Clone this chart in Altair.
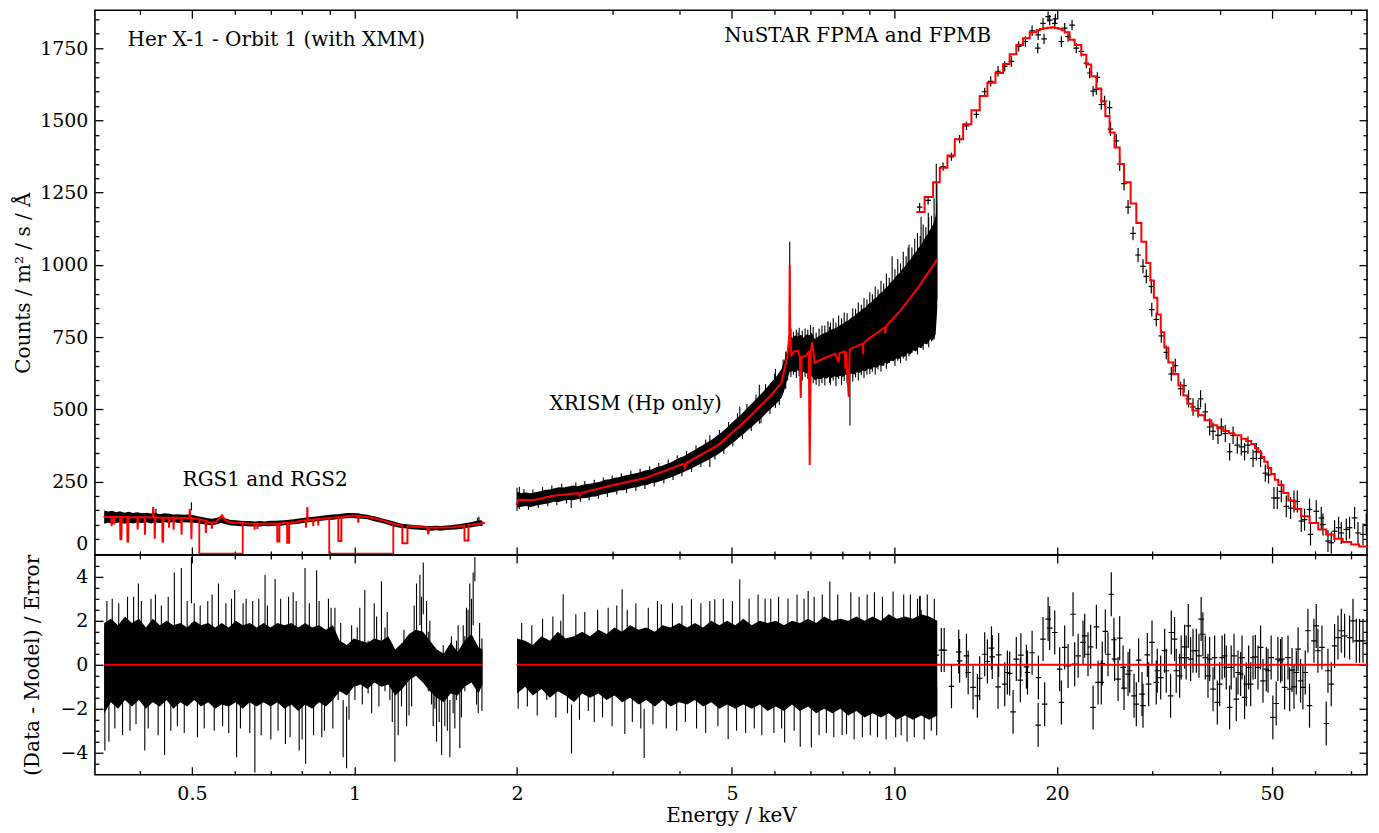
import altair as alt
import pandas as pd

FONT = "DejaVu Serif"
W, H1, H2 = 1273, 545, 220
X_DOMAIN = [0.3307, 74.98]
Y1_DOMAIN = [-4, 1881]
Y2_DOMAIN = [-5, 5]

# ------------------------------------------------------------------ data
# RGS model (keV, counts/m2/s/A)
rgs_model = [
    (0.343, 127), (0.352, 127), (0.3545, 127), (0.3551, 95), (0.3557, 127), (0.3583, 127), (0.3589, 101), (0.3595, 127),
    (0.368, 127), (0.3687, 50), (0.3701, 50), (0.3708, 127),
    (0.3795, 127), (0.3799, 42), (0.3809, 42), (0.3815, 127),
    (0.3962, 126), (0.3968, 84), (0.3974, 126),
    (0.4087, 126), (0.4093, 66), (0.4099, 126),
    (0.4230, 126), (0.4240, 162), (0.4250, 126), (0.4262, 126), (0.4268, 52), (0.4276, 126),
    (0.4407, 125), (0.4412, 42), (0.4422, 42), (0.4428, 125),
    (0.4530, 125), (0.4536, 90), (0.4542, 125),
    (0.4619, 125), (0.4625, 83), (0.4631, 125),
    (0.4779, 124), (0.4785, 66), (0.4791, 124),
    (0.4945, 124), (0.4955, 155), (0.4965, 124), (0.4984, 124), (0.4990, 50), (0.4998, 124),
    (0.505, 122), (0.515, 120), (0.525, 116), (0.5301, 114), (0.5307, 72), (0.5313, 113), (0.538, 110),
    (0.5437, 108), (0.5443, 87), (0.5449, 108),
    (0.555, 110), (0.562, 122), (0.5684, 133), (0.575, 118), (0.585, 110), (0.600, 107), (0.620, 106), (0.640, 104),
    (0.6527, 104), (0.6533, 83), (0.6540, 104), (0.6605, 104), (0.6611, 86), (0.6618, 104),
    (0.690, 104), (0.7195, 105), (0.7197, 42), (0.7259, 42), (0.7261, 105),
    (0.7505, 107), (0.7507, 38), (0.7570, 38), (0.7572, 107),
    (0.780, 110), (0.800, 115), (0.8125, 116), (0.8131, 90), (0.8137, 116), (0.8170, 117), (0.8180, 162), (0.8190, 117),
    (0.8385, 118), (0.8390, 95), (0.8396, 118), (0.8565, 120), (0.8570, 98), (0.8576, 120),
    (0.880, 122), (0.910, 125), (0.9335, 127), (0.9337, 44), (0.9455, 44), (0.9457, 127),
    (0.965, 130), (0.995, 132), (1.0150, 131), (1.0163, 107), (1.0175, 130),
    (1.053, 127), (1.085, 123), (1.114, 118), (1.150, 110), (1.180, 104), (1.220, 98),
    (1.2265, 97), (1.2267, 36), (1.2535, 36), (1.2537, 95),
    (1.285, 95), (1.340, 92), (1.3650, 91), (1.3700, 67), (1.3750, 90), (1.399, 90), (1.460, 91), (1.523, 92),
    (1.590, 97), (1.5985, 98), (1.5987, 46), (1.6255, 46), (1.6257, 100), (1.659, 101), (1.700, 104), (1.745, 107),
]
# RGS chip gaps (model drops to zero)
rgs_gap1 = [(0.516, 120), (0.516, 0), (0.621, 0), (0.621, 106)]
rgs_gap2 = [(0.898, 122), (0.898, 0), (1.180, 0), (1.180, 104)]

# RGS data envelope (keV, low, high)
rgs_band = [
    (0.344, 104, 150), (0.350, 108, 146), (0.356, 103, 149), (0.362, 106, 144), (0.368, 109, 147),
    (0.375, 104, 142), (0.382, 107, 145), (0.389, 105, 141), (0.396, 108, 144), (0.404, 106, 140),
    (0.412, 109, 142), (0.420, 105, 139), (0.428, 108, 141), (0.436, 106, 137), (0.445, 109, 140),
    (0.454, 107, 138), (0.463, 110, 136), (0.472, 106, 137), (0.482, 109, 135), (0.492, 108, 136),
    (0.502, 107, 134), (0.512, 106, 130), (0.522, 103, 127), (0.533, 100, 124), (0.544, 99, 121),
    (0.555, 101, 124), (0.566, 106, 130), (0.578, 102, 122), (0.590, 98, 117), (0.602, 97, 116),
    (0.615, 95, 114), (0.628, 96, 113), (0.641, 94, 113), (0.654, 95, 112), (0.668, 94, 113),
    (0.682, 96, 112), (0.696, 95, 114), (0.711, 97, 114), (0.726, 96, 115), (0.741, 99, 116),
    (0.757, 100, 118), (0.773, 102, 119), (0.789, 104, 122), (0.806, 107, 125), (0.823, 109, 126),
    (0.840, 111, 128), (0.858, 113, 130), (0.876, 115, 132), (0.894, 117, 134), (0.913, 118, 136),
    (0.932, 120, 137), (0.952, 122, 139), (0.972, 123, 141), (0.993, 124, 141), (1.014, 122, 140),
    (1.035, 121, 137), (1.057, 119, 135), (1.080, 114, 131), (1.103, 110, 127), (1.126, 106, 122),
    (1.150, 101, 118), (1.174, 96, 113), (1.199, 92, 108), (1.224, 89, 104), (1.250, 87, 102),
    (1.276, 85, 100), (1.303, 84, 99), (1.331, 82, 98), (1.359, 81, 96), (1.388, 80, 96),
    (1.417, 81, 97), (1.447, 80, 96), (1.478, 82, 98), (1.509, 83, 99), (1.541, 84, 101),
    (1.573, 86, 103), (1.607, 89, 106), (1.641, 91, 109), (1.676, 94, 113), (1.711, 96, 116), (1.726, 95, 114),
]
rgs_spikes = [(0.499, 150, 178), (0.429, 138, 156), (1.700, 110, 128), (1.690, 102, 124)]

# XRISM model
xrism_model = [
    (1.995, 170), (2.012, 187), (2.154, 186), (2.316, 200), (2.599, 210), (2.613, 200), (2.633, 211),
    (2.992, 236), (3.444, 261), (4.067, 311), (4.093, 297), (4.118, 314), (4.715, 376), (5.274, 457),
    (5.834, 538), (6.173, 590), (6.336, 685), (6.385, 760), (6.397, 1000), (6.410, 760), (6.442, 688),
    (6.52, 700), (6.630, 702), (6.68, 680), (6.705, 539), (6.73, 680), (6.867, 686), (6.94, 702),
    (6.966, 307), (7.00, 700), (7.04, 732), (7.116, 662), (7.479, 680), (7.764, 692), (7.88, 662),
    (7.91, 695), (8.09, 700), (8.11, 640), (8.13, 700), (8.23, 543), (8.26, 705), (8.318, 710),
    (8.74, 728), (8.75, 690), (8.76, 728), (8.93, 742), (9.59, 783), (9.61, 762), (9.65, 788),
    (10.29, 845), (11.06, 921), (12.00, 1019),
]
# XRISM data: dense core (keV, low, high)
xrism_band = [
    (2.00, 160, 214), (2.04, 163, 210), (2.08, 165, 212), (2.12, 161, 209), (2.16, 166, 213),
    (2.21, 170, 216), (2.25, 172, 221), (2.30, 176, 222), (2.34, 180, 226), (2.39, 179, 230),
    (2.44, 184, 229), (2.49, 186, 233), (2.54, 185, 236), (2.59, 189, 234), (2.64, 192, 238),
    (2.69, 193, 241), (2.75, 197, 243), (2.80, 198, 247), (2.86, 204, 250), (2.91, 207, 256),
    (2.97, 211, 258), (3.03, 214, 263), (3.09, 219, 265), (3.15, 220, 270), (3.22, 225, 273),
    (3.28, 228, 277), (3.35, 231, 280), (3.41, 236, 285), (3.48, 238, 290), (3.55, 244, 292),
    (3.62, 247, 299), (3.70, 253, 304), (3.77, 258, 310), (3.85, 264, 316), (3.92, 270, 324),
    (4.00, 277, 332), (4.08, 284, 338), (4.16, 291, 348), (4.25, 299, 357), (4.33, 307, 367),
    (4.42, 316, 376), (4.51, 324, 387), (4.60, 333, 396), (4.69, 342, 408), (4.78, 352, 420),
    (4.88, 365, 434), (4.97, 378, 449), (5.07, 390, 464), (5.17, 404, 478), (5.28, 418, 495),
    (5.38, 432, 511), (5.49, 446, 527), (5.60, 460, 544), (5.71, 475, 561), (5.83, 492, 580),
    (5.94, 506, 598), (6.06, 522, 616), (6.18, 540, 640), (6.25, 565, 668), (6.32, 600, 700),
    (6.36, 615, 712), (6.40, 630, 752), (6.47, 632, 748), (6.55, 628, 755), (6.63, 636, 752),
    (6.71, 622, 758), (6.79, 630, 748), (6.87, 624, 760), (6.95, 632, 756), (7.03, 615, 765),
    (7.12, 600, 742), (7.20, 606, 750), (7.29, 604, 756), (7.38, 610, 762), (7.47, 606, 766),
    (7.56, 612, 772), (7.65, 608, 776), (7.74, 614, 780), (7.83, 610, 784), (7.93, 616, 792),
    (8.02, 612, 796), (8.12, 620, 804), (8.22, 616, 808), (8.32, 624, 818), (8.42, 620, 822),
    (8.52, 628, 832), (8.62, 626, 838), (8.73, 634, 848), (8.83, 632, 852), (8.94, 640, 864),
    (9.05, 638, 870), (9.16, 646, 882), (9.27, 644, 888), (9.38, 652, 900), (9.49, 650, 906),
    (9.61, 660, 918), (9.72, 658, 926), (9.84, 668, 940), (9.96, 666, 948), (10.08, 676, 962),
    (10.20, 674, 970), (10.32, 684, 984), (10.45, 682, 994), (10.57, 694, 1008), (10.70, 690, 1018),
    (10.83, 704, 1034), (10.96, 700, 1045), (11.09, 716, 1060), (11.23, 712, 1072), (11.36, 728, 1090),
    (11.50, 724, 1104), (11.64, 742, 1122), (11.78, 738, 1138), (11.92, 760, 1170), (12.00, 850, 1220),
]
# XRISM data: individual bins standing out of the core (keV, low, high)
xrism_spikes = [
    (2.00, 148, 228), (2.02, 155, 232), (2.06, 170, 224), (2.10, 152, 206), (2.14, 168, 222),
    (2.19, 158, 210), (2.23, 176, 230), (2.28, 164, 215), (2.32, 182, 236), (2.37, 168, 222),
    (2.42, 188, 242), (2.47, 174, 228), (2.52, 158, 200), (2.57, 192, 247), (2.62, 180, 232),
    (2.67, 197, 252), (2.72, 184, 236), (2.78, 202, 256), (2.83, 190, 242), (2.89, 210, 264),
    (2.94, 196, 250), (3.00, 217, 271), (3.06, 205, 256), (3.12, 223, 279), (3.19, 210, 262),
    (3.25, 231, 287), (3.32, 217, 270), (3.38, 238, 294), (3.45, 224, 280), (3.52, 246, 303),
    (3.59, 233, 288), (3.66, 255, 314), (3.74, 243, 298), (3.81, 266, 326), (3.89, 255, 311),
    (3.96, 279, 341), (4.04, 268, 326), (4.12, 293, 356), (4.21, 283, 341), (4.29, 309, 375),
    (4.38, 300, 360), (4.47, 326, 395), (4.55, 300, 410), (4.65, 326, 390), (4.74, 352, 428),
    (4.83, 346, 416), (4.93, 377, 456), (5.02, 372, 443), (5.12, 403, 486), (5.17, 420, 509),
    (5.23, 398, 474), (5.33, 431, 518), (5.43, 425, 505), (5.54, 459, 551), (5.62, 450, 585),
    (5.66, 452, 540), (5.77, 489, 587), (5.88, 484, 576), (6.00, 520, 624), (6.02, 505, 640),
    (6.12, 515, 615), (6.22, 558, 672), (6.29, 570, 700), (6.34, 600, 716),
    (6.397, 640, 1080), (6.43, 612, 780), (6.50, 620, 768), (6.58, 608, 775), (6.63, 640, 766),
    (6.66, 615, 782), (6.75, 600, 772), (6.83, 612, 780), (6.91, 606, 775), (6.99, 598, 792),
    (7.07, 590, 785), (7.16, 585, 765), (7.25, 580, 780), (7.34, 590, 790), (7.43, 582, 790),
    (7.53, 640, 805), (7.58, 592, 785), (7.61, 585, 800), (7.70, 600, 815), (7.79, 580, 800),
    (7.88, 605, 825), (7.98, 585, 815), (8.07, 598, 835), (8.17, 590, 832), (8.27, 444, 620),
    (8.37, 596, 850), (8.47, 610, 848), (8.57, 600, 870), (8.68, 618, 862), (8.78, 608, 885),
    (8.89, 620, 880), (9.00, 622, 905), (9.10, 630, 898), (9.21, 620, 925), (9.32, 638, 915),
    (9.44, 630, 945), (9.55, 650, 935), (9.66, 640, 970), (9.78, 660, 955), (9.90, 800, 1030),
    (10.02, 650, 985), (10.14, 668, 1020), (10.29, 685, 900), (10.26, 660, 1005), (10.38, 676, 1045),
    (10.51, 668, 1030), (10.60, 720, 1060), (10.64, 684, 1070), (10.77, 695, 1060), (10.90, 731, 1090),
    (11.03, 690, 1110), (11.16, 712, 1100), (11.20, 900, 1166), (11.30, 705, 1140), (11.43, 728, 1130),
    (11.55, 742, 1180), (11.57, 715, 1165), (11.71, 735, 1170), (11.84, 742, 1230), (11.95, 1000, 1350),
    (11.98, 880, 1290),
]

# NuSTAR model (binned, step edges)
nustar_model = [
    (10.98, 1183), (11.37, 1235), (11.79, 1286), (12.13, 1336), (12.53, 1378), (12.93, 1435), (13.40, 1487),
    (13.88, 1535), (14.38, 1584), (14.86, 1630), (15.38, 1664), (15.89, 1695), (16.34, 1729), (16.81, 1761),
    (17.30, 1784), (17.80, 1805), (18.31, 1812), (18.60, 1816), (18.86, 1819), (19.20, 1821), (19.51, 1822),
    (19.80, 1820), (20.11, 1817), (20.40, 1812), (20.66, 1805), (21.10, 1779), (21.56, 1761), (22.18, 1727),
    (22.66, 1693), (23.14, 1653), (23.65, 1610), (24.15, 1565), (24.57, 1515), (25.02, 1458), (25.56, 1406),
    (26.12, 1349), (26.61, 1286), (27.37, 1212), (28.04, 1145), (28.65, 1080), (29.26, 1006), (29.77, 946),
    (30.22, 886), (30.67, 828), (31.12, 767), (31.60, 714), (32.14, 662), (32.83, 622), (33.54, 582),
    (34.26, 548), (34.85, 519), (35.61, 496), (36.53, 479), (37.5, 462), (38.60, 445), (39.6, 434),
    (40.63, 425), (41.6, 417), (42.58, 410), (43.87, 398), (44.8, 390), (45.78, 380), (46.5, 366),
    (47.16, 352), (47.8, 335), (48.39, 318), (49.1, 297), (49.83, 276), (50.6, 256), (51.37, 238),
    (52.5, 210), (53.61, 184), (55.1, 155), (56.63, 130), (58.7, 106), (60.91, 84), (63.0, 67),
    (65.21, 52), (67.6, 41), (70.08, 32), (72.5, 25), (75.0, 20),
]
# NuSTAR data (keV, value, 1-sigma error)
nustar_data = [
    (11.13, 1200, 14), (11.54, 1223, 14), (12.30, 1340, 14), (12.75, 1374, 14), (13.20, 1435, 14),
    (13.59, 1481, 14), (14.18, 1521, 14), (14.69, 1599, 14), (15.07, 1635, 18), (15.55, 1670, 18),
    (16.00, 1687, 18), (16.46, 1704, 18), (16.98, 1756, 18), (17.47, 1773, 18), (17.98, 1810, 18),
    (18.45, 1796, 18), (18.42, 1750, 18), (18.92, 1782, 18), (18.84, 1836, 18), (19.25, 1859, 18),
    (19.38, 1847, 18), (19.86, 1851, 18), (19.80, 1836, 18), (20.37, 1773, 18), (20.66, 1819, 18),
    (20.96, 1790, 18), (21.32, 1830, 18), (21.71, 1750, 18), (22.18, 1739, 18), (22.66, 1698, 18),
    (22.98, 1664, 18), (23.32, 1601, 18), (23.65, 1607, 18), (23.75, 1649, 18), (24.15, 1555, 18),
    (24.49, 1567, 18), (25.02, 1544, 24), (25.12, 1470, 24), (25.75, 1429, 24), (26.12, 1349, 24),
    (26.61, 1281, 24), (27.07, 1200, 24), (27.65, 1109, 24), (28.25, 1034, 24), (28.85, 995, 24),
    (29.26, 960, 24), (29.89, 925, 24), (29.95, 845, 24), (30.53, 811, 24), (31.19, 754, 24),
    (31.86, 697, 24), (32.55, 622, 24), (33.11, 651, 24), (33.87, 571, 24), (34.37, 582, 24),
    (35.04, 536, 30), (35.71, 508, 30), (36.48, 502, 30), (36.88, 536, 30), (37.63, 491, 30),
    (38.33, 439, 30), (38.89, 424, 30), (39.72, 410, 30), (40.29, 439, 30), (40.98, 416, 30),
    (41.74, 353, 30), (42.36, 410, 30), (43.13, 376, 30), (43.87, 370, 30), (44.49, 353, 30),
    (45.14, 376, 30), (46.12, 330, 30), (46.77, 353, 30), (47.63, 330, 30), (48.60, 279, 30),
    (49.28, 273, 30), (50.43, 193, 38), (51.15, 193, 38), (52.03, 216, 38), (53.15, 164, 38),
    (54.13, 158, 38), (54.92, 181, 38), (55.70, 181, 38), (56.65, 113, 38), (57.45, 118, 38),
    (58.68, 153, 38), (58.93, 67, 38), (60.39, 147, 38), (61.70, 124, 38), (62.14, 101, 38),
    (63.48, 44, 38), (64.38, 38, 38), (65.30, 78, 38), (66.42, 90, 38), (67.19, 72, 38),
    (68.64, 84, 38), (69.61, 90, 38), (71.11, 124, 38), (72.15, 72, 38), (73.71, 67, 38), (74.75, 101, 38),
]

# Residuals: RGS dense core (keV, low, high)
rgs_res_band = [
    (0.344, -2.2, 1.9), (0.354, -1.7, 2.1), (0.365, -2.0, 1.8), (0.376, -1.6, 2.2), (0.387, -1.9, 1.9),
    (0.399, -1.6, 2.1), (0.411, -2.0, 1.7), (0.423, -1.7, 2.1), (0.436, -1.9, 1.8), (0.449, -1.6, 2.0),
    (0.462, -2.0, 1.8), (0.476, -1.7, 1.9), (0.490, -1.9, 1.7), (0.505, -1.6, 2.0), (0.520, -1.9, 1.8),
    (0.536, -1.7, 1.9), (0.552, -2.0, 1.7), (0.568, -1.8, 1.9), (0.585, -1.9, 1.7), (0.603, -1.7, 2.0),
    (0.621, -2.0, 1.8), (0.640, -1.7, 1.9), (0.659, -1.9, 1.7), (0.679, -1.7, 1.9), (0.699, -1.9, 1.7),
    (0.720, -1.7, 1.9), (0.742, -2.0, 1.8), (0.764, -1.8, 1.9), (0.787, -2.1, 1.7), (0.810, -1.8, 1.9),
    (0.835, -2.0, 1.7), (0.860, -1.7, 1.8), (0.885, -1.9, 1.6), (0.912, -1.6, 1.8), (0.939, -1.2, 1.1),
    (0.968, -1.4, 0.9), (0.997, -1.0, 1.2), (1.027, -0.9, 1.1), (1.057, -1.1, 1.0), (1.089, -0.8, 1.2),
    (1.122, -1.0, 1.1), (1.155, -0.9, 1.3), (1.190, -1.4, 0.7), (1.226, -1.1, 1.0), (1.262, -0.7, 1.4),
    (1.300, -0.5, 1.6), (1.339, -0.8, 1.5), (1.379, -1.2, 1.1), (1.421, -1.5, 0.7), (1.463, -1.7, 0.5),
    (1.507, -1.3, 1.0), (1.553, -1.4, 0.6), (1.599, -1.0, 1.1), (1.647, -0.8, 1.4), (1.697, -1.3, 0.8),
    (1.726, -0.9, 0.7),
]
rgs_res_spikes = [
    (0.345, -3.9, 1.8), (0.348, 0.5, 2.9), (0.351, -3.5, 0.5), (0.356, 0.2, 3.0), (0.360, -2.9, -0.4),
    (0.366, 0.4, 2.8), (0.372, -3.2, -0.5), (0.380, 0.6, 3.1), (0.384, -3.0, -0.6), (0.390, 0.5, 3.1),
    (0.394, -2.7, -0.3), (0.398, -0.5, 3.7), (0.403, 0.3, 2.9), (0.409, -3.9, 0.3), (0.415, -2.9, -0.5),
    (0.420, 0.5, 3.0), (0.428, 0.8, 3.2), (0.433, -3.2, -0.7), (0.439, 0.4, 2.7), (0.445, -4.1, 0.2),
    (0.452, 0.6, 3.1), (0.457, -3.0, -0.5), (0.464, 0.5, 4.2), (0.470, -2.8, -0.4), (0.478, 1.0, 4.4),
    (0.484, -3.1, -0.6), (0.490, 0.4, 2.9), (0.499, 2.8, 4.9), (0.4995, -1.0, 1.9), (0.505, 0.5, 2.8),
    (0.512, -3.3, -0.6), (0.518, 0.3, 2.7), (0.527, -2.9, -0.5), (0.535, 0.5, 2.9), (0.545, 0.6, 3.2),
    (0.550, -3.0, -0.6), (0.560, 0.0, 3.7), (0.570, -2.8, -0.4), (0.578, 0.4, 2.8), (0.585, -3.1, -0.4),
    (0.592, 0.6, 3.0), (0.600, 0.3, 3.4), (0.605, -4.2, -0.5), (0.615, -2.9, -0.5), (0.622, 0.5, 2.8),
    (0.630, 0.4, 3.0), (0.640, -3.1, -0.6), (0.648, 0.4, 2.9), (0.654, -4.9, -1.5), (0.665, 0.5, 3.0),
    (0.672, -3.2, -0.8), (0.683, 0.8, 4.1), (0.690, 0.3, 2.7), (0.700, -3.4, -0.6), (0.713, 0.6, 3.9),
    (0.722, -3.0, -0.6), (0.730, 0.5, 3.0), (0.745, -3.6, -0.8), (0.755, 0.6, 3.1), (0.760, -3.3, -0.7),
    (0.770, 0.5, 3.3), (0.780, 0.4, 2.9), (0.790, -3.9, -1.0), (0.800, -3.4, -0.8), (0.810, 1.0, 4.4),
    (0.812, -4.5, -1.0), (0.825, 0.5, 2.8), (0.840, -3.2, -0.6), (0.851, 0.8, 4.3), (0.860, 0.5, 2.9),
    (0.870, -3.3, -0.4), (0.880, -3.0, -0.5), (0.895, 0.6, 3.0), (0.905, 0.4, 2.6), (0.912, -2.9, -0.6),
    (0.920, 0.6, 2.6), (0.933, -1.6, 1.1), (0.943, -0.5, 1.9), (0.953, -4.2, -1.6), (0.967, -4.7, -1.9),
    (0.977, -2.5, 0.2), (0.988, -0.7, 1.8), (1.002, -1.6, 0.6), (1.012, -0.9, 1.7), (1.023, -0.4, 2.6),
    (1.034, -1.8, 0.9), (1.045, 0.6, 3.4), (1.060, -1.3, 1.1), (1.076, -2.2, 0.3), (1.088, 0.1, 2.8),
    (1.099, -0.4, 2.2), (1.110, -1.9, 0.5), (1.122, 1.1, 3.8), (1.139, -1.2, 1.7), (1.150, -0.2, 2.4),
    (1.163, -1.6, 1.1), (1.175, -2.6, 0.0), (1.188, -4.4, -0.1), (1.205, -3.2, -0.7), (1.222, -1.9, 0.3),
    (1.235, -0.9, 1.6), (1.249, -2.8, -0.1), (1.262, -2.3, 0.1), (1.276, -1.9, 1.1), (1.290, -0.4, 2.7),
    (1.303, 0.6, 3.7), (1.322, 1.8, 4.1), (1.331, 0.8, 3.1), (1.341, 2.3, 4.65), (1.360, 0.2, 2.9),
    (1.370, -1.2, 1.5), (1.379, -0.7, 2.0), (1.389, -1.8, 1.0), (1.399, -2.8, 0.0), (1.409, -2.0, 0.7),
    (1.419, -3.5, -0.7), (1.435, -2.6, -0.2), (1.450, -4.1, -1.2), (1.460, -1.5, 0.9), (1.470, -2.8, -0.4),
    (1.486, -3.0, -0.3), (1.502, -4.2, -1.6), (1.512, -1.1, 1.3), (1.523, -2.2, 0.3), (1.534, -2.9, -0.4),
    (1.545, -1.6, 1.1), (1.556, -0.9, 1.8), (1.567, -3.8, -0.9), (1.578, -2.4, 0.2), (1.590, -0.7, 1.8),
    (1.601, -1.2, 1.3), (1.612, 0.2, 2.6), (1.623, -0.3, 2.5), (1.635, 1.1, 3.7), (1.647, 0.5, 3.0),
    (1.659, 1.8, 4.2), (1.671, 3.8, 4.9), (1.683, -1.8, 0.9), (1.695, -2.2, -0.4), (1.705, -0.3, 1.9),
    (1.714, -1.0, 0.5), (1.722, -2.1, 1.2),
]
# wide RGS bins across the chip gaps (keV start, keV end, residual)
rgs_res_wide = [(0.521, 0.622, -1.3), (0.920, 1.188, 0.5)]

# Residuals: XRISM dense core (keV, low, high)
xrism_res_band = [
    (2.00, -1.3, 1.2), (2.07, -1.0, 1.1), (2.14, -1.4, 0.9), (2.22, -1.1, 1.3), (2.30, -1.5, 1.1),
    (2.38, -1.2, 1.5), (2.46, -1.4, 1.2), (2.55, -1.7, 1.3), (2.64, -1.3, 1.5), (2.73, -1.5, 1.3),
    (2.83, -1.3, 1.6), (2.93, -1.6, 1.4), (3.03, -1.4, 1.7), (3.13, -1.7, 1.5), (3.24, -1.5, 1.8),
    (3.36, -1.8, 1.6), (3.47, -1.6, 1.7), (3.60, -1.9, 1.5), (3.72, -1.6, 1.8), (3.85, -1.9, 1.7),
    (3.99, -1.7, 1.9), (4.13, -1.8, 1.7), (4.27, -1.6, 1.9), (4.42, -1.9, 1.7), (4.58, -1.7, 2.0),
    (4.74, -2.0, 1.8), (4.90, -1.8, 2.0), (5.07, -2.0, 1.8), (5.25, -1.8, 2.1), (5.44, -2.0, 1.8),
    (5.63, -1.8, 2.0), (5.82, -2.1, 1.9), (6.03, -1.9, 2.0), (6.24, -2.1, 1.8), (6.46, -1.8, 2.0),
    (6.68, -2.1, 1.9), (6.92, -1.9, 2.1), (7.16, -2.2, 1.9), (7.41, -2.0, 2.2), (7.67, -2.2, 2.0),
    (7.94, -2.0, 2.1), (8.21, -2.3, 2.0), (8.50, -2.1, 2.2), (8.80, -2.4, 2.0), (9.11, -2.2, 2.2),
    (9.43, -2.4, 2.0), (9.76, -2.2, 2.3), (10.10, -2.5, 2.1), (10.45, -2.3, 2.2), (10.82, -2.5, 2.1),
    (11.20, -2.3, 2.3), (11.59, -2.5, 2.2), (12.00, -2.3, 2.0),
]
xrism_res_spikes = [
    (2.01, -2.0, 0.5), (2.04, -0.3, 1.9), (2.09, -1.9, -0.2), (2.13, 0.1, 1.8), (2.18, -2.3, -0.4),
    (2.23, 0.2, 2.1), (2.27, -1.6, 0.9), (2.33, 0.3, 2.2), (2.36, -2.4, -0.6), (2.41, -0.2, 2.0),
    (2.435, 1.0, 3.21), (2.48, -2.2, -0.3), (2.523, -4.03, -1.8), (2.57, 0.2, 2.3), (2.61, -2.5, -0.5),
    (2.67, 0.4, 2.4), (2.71, -2.1, 0.2), (2.78, -2.6, -0.6), (2.82, 0.5, 2.5), (2.88, -2.4, -0.4),
    (2.95, 0.3, 2.6), (3.00, -2.8, -0.7), (3.06, 0.6, 2.7), (3.131, 1.2, 3.44), (3.167, -3.15, -1.0),
    (3.20, 0.4, 2.5), (3.27, -2.6, -0.5), (3.32, 0.5, 2.8), (3.39, -2.9, -0.8), (3.439, -4.24, -2.0),
    (3.50, 0.6, 2.6), (3.57, -2.7, -0.6), (3.64, 0.3, 2.9), (3.70, 0.8, 2.76), (3.78, -2.9, -0.7),
    (3.88, 0.6, 2.8), (3.95, -3.0, -0.9), (4.04, 0.4, 2.7), (4.10, -2.6, -0.5), (4.207, 1.0, 2.98),
    (4.30, -2.9, -0.8), (4.38, 0.5, 2.8), (4.47, -3.1, -0.9), (4.55, 0.7, 2.9), (4.647, 0.9, 2.98),
    (4.71, -2.8, -0.6), (4.82, 0.6, 3.0), (4.92, -3.38, -1.2), (5.01, 0.5, 2.9), (5.10, -3.0, -0.8),
    (5.17, 1.5, 3.89), (5.30, -3.1, -0.9), (5.38, 0.7, 3.0), (5.50, -2.9, -0.7), (5.59, 1.0, 3.2),
    (5.68, -3.2, -1.0), (5.76, 0.6, 3.0), (5.90, 0.6, 3.0), (5.98, -3.1, -0.9), (6.10, 0.7, 3.1),
    (6.18, -2.9, -0.7), (6.26, -3.53, -1.3), (6.35, 0.8, 3.0), (6.52, -3.0, -0.8), (6.60, 0.7, 3.2),
    (6.69, -3.73, -1.5), (6.80, 0.8, 3.0), (6.92, 1.2, 3.36), (7.015, -3.76, -1.6), (7.10, 0.9, 3.1),
    (7.25, -3.2, -1.0), (7.35, 0.8, 3.2), (7.48, -3.1, -0.9), (7.59, 1.5, 3.79), (7.72, -3.3, -1.1),
    (7.85, 0.9, 3.2), (8.00, -3.2, -1.0), (8.15, -3.15, -1.0), (8.30, 1.0, 3.3), (8.42, -3.4, -1.2),
    (8.60, 1.0, 3.1), (8.72, -3.3, -1.1), (8.90, 1.1, 3.2), (9.02, -3.2, -1.0), (9.18, 0.9, 3.3),
    (9.30, -3.3, -1.2), (9.50, 1.0, 3.1), (9.65, -3.4, -1.2), (9.94, 1.2, 3.33), (10.05, -3.3, -1.1),
    (10.29, -3.2, -1.0), (10.40, 1.0, 3.2), (10.55, -3.5, -1.3), (10.70, 0.9, 3.2), (10.88, -3.3, -1.1),
    (11.03, 1.0, 3.0), (11.16, 1.0, 3.14), (11.35, -3.4, -1.2), (11.50, 1.1, 3.2), (11.70, -3.0, -0.9),
    (11.85, 0.9, 3.0), (11.97, -3.2, -1.0),
]

# Residuals: NuSTAR (keV, (data-model)/error), error bars are +-1
nustar_res = [
    (11.13, 2.12), (11.20, 1.50), (11.95, 0.44), (12.21, 0.67), (12.36, 0.67), (12.75, -0.98),
    (13.15, 0.59), (13.20, 0.18), (13.59, 0.41), (13.69, -0.35), (13.98, -1.03), (14.24, -1.41),
    (14.38, -0.61), (14.69, 0.48), (14.86, 0.15), (15.12, 0.76), (15.17, 0.36), (15.55, -1.00),
    (15.59, 0.45), (16.00, -0.88), (16.18, -0.35), (16.34, -0.39), (16.58, -2.14), (16.81, 0.26),
    (17.10, -0.70), (17.14, 0.44), (17.55, -0.09), (17.63, -0.35), (17.98, 0.55), (18.45, -2.74),
    (18.47, -0.58), (18.84, 1.17), (18.97, -1.79), (19.25, 2.08), (19.38, 1.67), (19.80, 1.47),
    (20.22, -0.20), (20.37, -1.71), (20.66, 0.79), (20.96, -0.05), (21.41, 2.30), (21.56, 0.03),
    (21.88, 0.41), (22.34, 1.02), (22.50, 1.32), (22.82, 0.48), (23.08, 0.82), (23.32, -1.94),
    (23.65, 1.73), (23.82, -0.80), (24.15, -0.80), (24.25, 0.06), (24.57, 1.52), (24.85, 0.48),
    (25.20, 3.21), (25.49, 1.14), (25.56, 0.26), (25.94, -0.65), (26.12, 1.21), (26.50, -0.12),
    (26.61, -1.06), (27.07, -0.42), (27.26, -0.27), (27.77, -1.41), (28.04, -1.79), (28.32, 0.21),
    (28.73, -1.33), (28.85, -1.86), (29.39, 0.45), (29.55, -0.88), (29.98, 1.02), (30.53, -0.80),
    (30.66, -0.27), (31.11, -0.58), (31.64, 0.64), (31.86, -0.27), (32.45, -1.41), (32.55, 1.47),
    (33.01, 1.17), (33.24, -0.27), (33.73, -0.50), (33.95, 0.33), (34.45, 0.82), (34.68, 0.33),
    (35.00, 1.77), (35.34, 0.26), (35.71, 0.64), (36.22, 0.64), (36.63, 0.41), (36.97, 2.08),
    (37.24, 1.39), (37.63, 0.33), (38.06, -0.50), (38.33, 0.26), (38.89, -1.11), (39.16, 0.33),
    (39.61, -1.71), (40.00, -0.88), (40.42, 0.33), (40.86, 0.41), (41.15, -0.12), (41.74, -1.94),
    (42.02, -0.12), (42.53, 0.41), (42.94, -1.56), (43.26, -0.35), (43.75, -0.42), (44.01, 0.33),
    (44.49, -1.48), (44.81, -0.88), (45.27, -0.12), (45.66, -0.88), (46.12, 0.33), (46.58, 0.36),
    (47.11, -0.12), (47.63, 0.79), (48.12, -0.73), (48.81, -0.20), (49.17, -0.27), (49.83, 0.33),
    (50.19, -2.39), (50.91, -1.76), (51.28, 0.26), (51.87, 0.18), (52.18, 0.26), (52.77, -1.03),
    (53.54, 0.33), (53.91, -1.11), (54.47, -0.24), (54.92, -1.00), (55.47, -0.35), (55.89, 0.71),
    (56.48, -0.73), (57.05, -1.03), (57.62, -0.35), (58.28, 1.55), (58.68, -1.86), (59.80, 1.09),
    (60.39, 1.77), (60.82, 0.64), (61.88, 0.79), (63.02, -2.67), (63.48, -0.27), (64.38, -0.88),
    (65.30, 0.86), (66.25, 1.24), (67.19, 1.55), (68.16, 1.32), (69.61, 1.24), (70.63, 2.00),
    (71.63, 1.09), (72.64, 1.09), (73.71, 1.09),
]
# zero line of the residual panel (keV start, keV end)
zero_segments = [(0.344, 1.726), (1.995, 75.0)]

# annotations (text, keV, counts at baseline)
annotations = [
    ("Her X-1 - Orbit 1 (with XMM)", 0.380, 1757),
    ("NuSTAR FPMA and FPMB", 4.84, 1771),
    ("XRISM (Hp only)", 2.297, 498),
    ("RGS1 and RGS2", 0.4806, 235),
]

# tick positions
X_TICKS = [0.4, 0.5, 0.6, 0.7, 0.8, 0.9, 1, 2, 3, 4, 5, 6, 7, 8, 9, 10, 20, 30, 40, 50, 60, 70]
X_MAJOR = [0.5, 1, 2, 5, 10, 20, 50]
Y1_TICKS = list(range(50, 1851, 50))
Y1_LABELS = list(range(0, 1751, 250))
Y2_TICKS = [-4.5, -4, -3.5, -3, -2.5, -2, -1.5, -1, -0.5, 0, 0.5, 1, 1.5, 2, 2.5, 3, 3.5, 4, 4.5]
Y2_LABELS = [-4, -2, 0, 2, 4]

# ------------------------------------------------------------------ frames
df_rgs_model = pd.DataFrame(rgs_model, columns=["E", "v"])
df_gaps = pd.DataFrame(
    [(e, v, "g1", i) for i, (e, v) in enumerate(rgs_gap1)] + [(e, v, "g2", i) for i, (e, v) in enumerate(rgs_gap2)],
    columns=["E", "v", "seg", "i"])
df_rgs_band = pd.DataFrame(rgs_band, columns=["E", "lo", "hi"])
df_rgs_spk = pd.DataFrame(rgs_spikes, columns=["E", "lo", "hi"])
df_xr_model = pd.DataFrame(xrism_model, columns=["E", "v"])
df_xr_band = pd.DataFrame(xrism_band, columns=["E", "lo", "hi"])
df_xr_spk = pd.DataFrame(xrism_spikes, columns=["E", "lo", "hi"])
df_nu_model = pd.DataFrame(nustar_model, columns=["E", "v"])
df_nu = pd.DataFrame(nustar_data, columns=["E", "v", "err"])
df_nu["lo"] = df_nu["v"] - df_nu["err"]
df_nu["hi"] = df_nu["v"] + df_nu["err"]
df_nu["Elo"] = df_nu["E"] / 1.012
df_nu["Ehi"] = df_nu["E"] * 1.012
df_ann = pd.DataFrame(annotations, columns=["label", "E", "v"])

df_rgs_rb = pd.DataFrame(rgs_res_band, columns=["E", "lo", "hi"])
df_rgs_rs = pd.DataFrame(rgs_res_spikes, columns=["E", "lo", "hi"])
df_rgs_rw = pd.DataFrame(rgs_res_wide, columns=["E1", "E2", "r"])
df_xr_rb = pd.DataFrame(xrism_res_band, columns=["E", "lo", "hi"])
df_xr_rs = pd.DataFrame(xrism_res_spikes, columns=["E", "lo", "hi"])
df_nr = pd.DataFrame(nustar_res, columns=["E", "r"])
df_nr["lo"] = df_nr["r"] - 1
df_nr["hi"] = df_nr["r"] + 1
df_nr["Elo"] = df_nr["E"] / 1.012
df_nr["Ehi"] = df_nr["E"] * 1.012
df_zero = pd.DataFrame([(a, b, 0.0) for a, b in zero_segments], columns=["E1", "E2", "r"])

# ------------------------------------------------------------------ scales / axes
xs = alt.Scale(type="log", domain=X_DOMAIN, nice=False)
ys1 = alt.Scale(domain=Y1_DOMAIN, nice=False, zero=False)
ys2 = alt.Scale(domain=Y2_DOMAIN, nice=False, zero=False)

X_TEST = "indexof([0.5, 1, 2, 5, 10, 20, 50], datum.value) >= 0"
Y1_TEST = "datum.value % 250 == 0"
Y2_TEST = "datum.value % 2 == 0"


def tick_axis(orient, offset, values, test):
    return alt.Axis(orient=orient, offset=offset, values=values, labels=False, domain=False,
                    grid=False, ticks=True, title=None, tickColor="black", tickWidth=1.3,
                    tickSize={"condition": {"test": test, "value": 8}, "value": 4})


y1_label_axis = alt.Axis(orient="left", values=Y1_LABELS, ticks=False, domain=False, grid=False,
                         labelFont=FONT, labelFontSize=19, labelPadding=7, labelFlush=5,
                         labelColor="black", format="d",
                         title="Counts / m² / s / Å", titleFont=FONT, titleFontSize=20,
                         titleFontWeight="normal", titlePadding=6, titleColor="black")
y2_label_axis = alt.Axis(orient="left", values=Y2_LABELS, ticks=False, domain=False, grid=False,
                         labelFont=FONT, labelFontSize=19, labelPadding=7, labelColor="black", format="d",
                         title="(Data - Model) / Error", titleFont=FONT, titleFontSize=20,
                         titleFontWeight="normal", titlePadding=17, titleColor="black")
x_label_axis = alt.Axis(orient="bottom", values=X_MAJOR, ticks=False, domain=False, grid=False,
                        labelFont=FONT, labelFontSize=19, labelPadding=10, labelColor="black",
                        format="~g", labelOverlap=False, labelFlush=False,
                        title="Energy / keV", titleFont=FONT, titleFontSize=20,
                        titleFontWeight="normal", titlePadding=2, titleColor="black")

XN = alt.X("E:Q", scale=xs, axis=None)

# ------------------------------------------------------------------ top panel
top_layers = [
    alt.Chart(df_rgs_band).mark_area(color="black", clip=True).encode(
        x=alt.X("E:Q", scale=xs, axis=tick_axis("top", -H1, X_TICKS, X_TEST)),
        y=alt.Y("lo:Q", scale=ys1, axis=y1_label_axis), y2="hi:Q"),
    alt.Chart(df_xr_band).mark_area(color="black", clip=True).encode(
        x=alt.X("E:Q", scale=xs, axis=tick_axis("bottom", -H1, X_TICKS, X_TEST)),
        y=alt.Y("lo:Q", scale=ys1, axis=tick_axis("right", -W, Y1_TICKS, Y1_TEST)), y2="hi:Q"),
    alt.Chart(df_xr_spk).mark_rule(color="black", strokeWidth=1.1, clip=True).encode(
        x=XN, y=alt.Y("lo:Q", scale=ys1, axis=tick_axis("left", -W, Y1_TICKS, Y1_TEST)), y2="hi:Q"),
    alt.Chart(df_rgs_spk).mark_rule(color="black", strokeWidth=1.2, clip=True).encode(
        x=XN, y=alt.Y("lo:Q", scale=ys1, axis=None), y2="hi:Q"),
    alt.Chart(df_nu).mark_rule(color="black", strokeWidth=1.2, clip=True).encode(
        x=XN, y=alt.Y("lo:Q", scale=ys1, axis=None), y2="hi:Q"),
    alt.Chart(df_nu).mark_rule(color="black", strokeWidth=1.2, clip=True).encode(
        x=alt.X("Elo:Q", scale=xs, axis=None), x2="Ehi:Q", y=alt.Y("v:Q", scale=ys1, axis=None)),
    alt.Chart(df_gaps).mark_line(color="red", strokeWidth=1.8, clip=True).encode(
        x=XN, y=alt.Y("v:Q", scale=ys1, axis=None), detail="seg:N", order="i:Q"),
    alt.Chart(df_rgs_model).mark_line(color="red", strokeWidth=2, clip=True).encode(
        x=XN, y=alt.Y("v:Q", scale=ys1, axis=None)),
    alt.Chart(df_xr_model).mark_line(color="red", strokeWidth=2, clip=True).encode(
        x=XN, y=alt.Y("v:Q", scale=ys1, axis=None)),
    alt.Chart(df_nu_model).mark_line(color="red", strokeWidth=2, interpolate="step-after", clip=True).encode(
        x=XN, y=alt.Y("v:Q", scale=ys1, axis=None)),
    alt.Chart(df_ann).mark_text(align="left", baseline="alphabetic", font=FONT, fontSize=20, color="black").encode(
        x=XN, y=alt.Y("v:Q", scale=ys1, axis=None), text="label:N"),
]
top = alt.layer(*top_layers).resolve_axis(x="independent", y="independent").properties(width=W, height=H1)

# ------------------------------------------------------------------ residual panel
bot_layers = [
    alt.Chart(df_rgs_rb).mark_area(color="black", clip=True).encode(
        x=alt.X("E:Q", scale=xs, axis=x_label_axis),
        y=alt.Y("lo:Q", scale=ys2, axis=y2_label_axis), y2="hi:Q"),
    alt.Chart(df_xr_rb).mark_area(color="black", clip=True).encode(
        x=alt.X("E:Q", scale=xs, axis=tick_axis("top", -H2, X_TICKS, X_TEST)),
        y=alt.Y("lo:Q", scale=ys2, axis=tick_axis("right", -W, Y2_TICKS, Y2_TEST)), y2="hi:Q"),
    alt.Chart(df_nr).mark_rule(color="black", strokeWidth=1.2, clip=True).encode(
        x=alt.X("E:Q", scale=xs, axis=tick_axis("bottom", -H2, X_TICKS, X_TEST)),
        y=alt.Y("lo:Q", scale=ys2, axis=tick_axis("left", -W, Y2_TICKS, Y2_TEST)), y2="hi:Q"),
    alt.Chart(df_nr).mark_rule(color="black", strokeWidth=1.2, clip=True).encode(
        x=alt.X("Elo:Q", scale=xs, axis=None), x2="Ehi:Q", y=alt.Y("r:Q", scale=ys2, axis=None)),
    alt.Chart(df_rgs_rs).mark_rule(color="black", strokeWidth=1.1, clip=True).encode(
        x=XN, y=alt.Y("lo:Q", scale=ys2, axis=None), y2="hi:Q"),
    alt.Chart(df_xr_rs).mark_rule(color="black", strokeWidth=1.1, clip=True).encode(
        x=XN, y=alt.Y("lo:Q", scale=ys2, axis=None), y2="hi:Q"),
    alt.Chart(df_rgs_rw).mark_rule(color="black", strokeWidth=1.2, clip=True).encode(
        x=alt.X("E1:Q", scale=xs, axis=None), x2="E2:Q", y=alt.Y("r:Q", scale=ys2, axis=None)),
    alt.Chart(df_zero).mark_rule(color="red", strokeWidth=2, clip=True).encode(
        x=alt.X("E1:Q", scale=xs, axis=None), x2="E2:Q", y=alt.Y("r:Q", scale=ys2, axis=None)),
]
bottom = alt.layer(*bot_layers).resolve_axis(x="independent", y="independent").properties(width=W, height=H2)

chart = alt.vconcat(top, bottom, spacing=0, bounds="flush").properties(
    padding={"left": 4, "top": 0, "right": 2, "bottom": 0}
).configure_view(stroke="black", strokeWidth=1.6).configure_axis(
    labelFont=FONT, titleFont=FONT, grid=False
).configure_concat(spacing=0)

chart.save("out.html", embed_options={"renderer": "svg", "actions": False})
